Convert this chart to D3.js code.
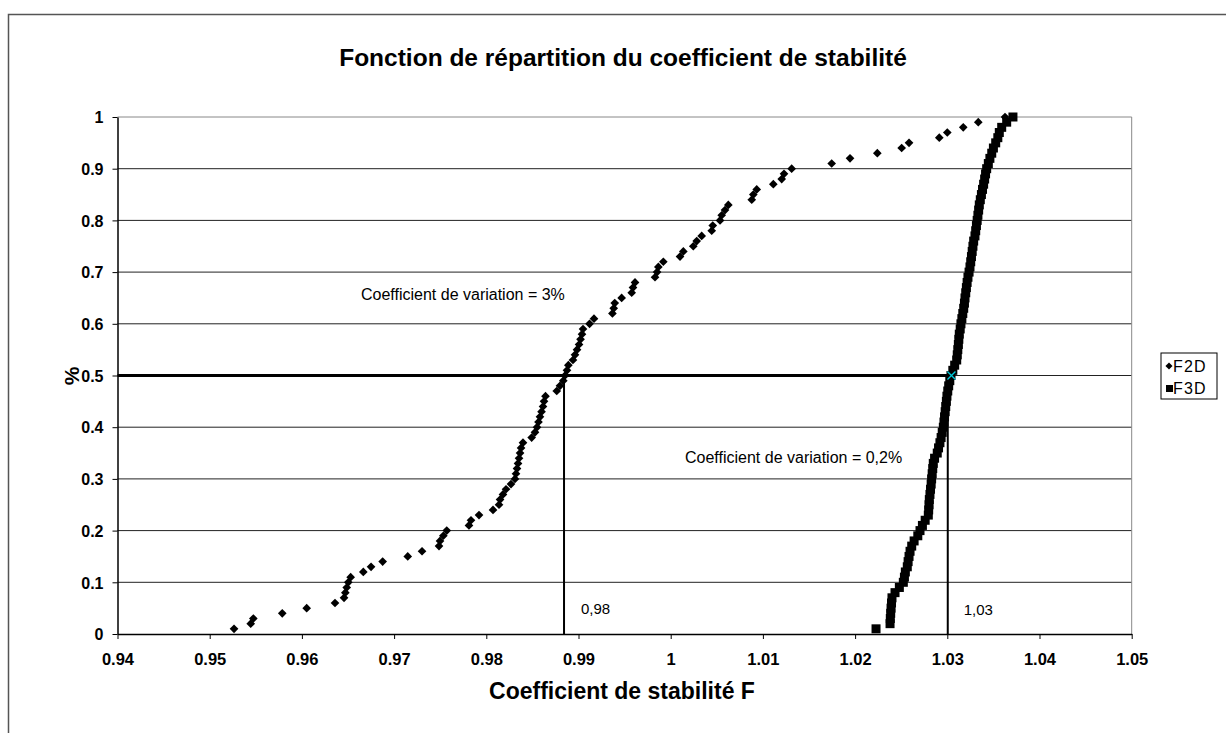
<!DOCTYPE html>
<html>
<head>
<meta charset="utf-8">
<script src="https://cdn.jsdelivr.net/npm/d3@7"></script>
<style>
  body { margin: 0; background: #fff; }
  svg { display: block; font-family: "Liberation Sans", Arial, sans-serif; }
</style>
</head>
<body>
<svg id="chart" width="1226" height="733"></svg>
<script>
// Cumulative probabilities (1 % ... 100 %)
const probs = d3.range(1, 101).map(i => i / 100);

// F2D stability coefficients, sorted
const f2d = [
  0.95264, 0.95445, 0.95473, 0.95787, 0.96052, 0.96359, 0.96457, 0.96471, 0.96486, 0.96503,
  0.96529, 0.96666, 0.96750, 0.96876, 0.97148, 0.97303, 0.97487, 0.97498, 0.97534, 0.97571,
  0.97812, 0.97834, 0.97921, 0.98073, 0.98138, 0.98149, 0.98181, 0.98214, 0.98268, 0.98311,
  0.98322, 0.98333, 0.98344, 0.98355, 0.98366, 0.98377, 0.98398, 0.98492, 0.98528, 0.98550,
  0.98566, 0.98582, 0.98599, 0.98615, 0.98626, 0.98642, 0.98764, 0.98799, 0.98835, 0.98854,
  0.98875, 0.98890, 0.98940, 0.98962, 0.98984, 0.99006, 0.99022, 0.99038, 0.99049, 0.99120,
  0.99168, 0.99368, 0.99382, 0.99393, 0.99468, 0.99577, 0.99591, 0.99613, 0.99830, 0.99852,
  0.99866, 0.99920, 1.00101, 1.00137, 1.00245, 1.00282, 1.00336, 1.00445, 1.00456, 1.00535,
  1.00553, 1.00589, 1.00625, 1.00879, 1.00896, 1.00933, 1.01113, 1.01204, 1.01229, 1.01312,
  1.01746, 1.01945, 1.02241, 1.02505, 1.02585, 1.02913, 1.03000, 1.03173, 1.03336, 1.03626
];

// F3D stability coefficients, sorted
const f3d = [
  1.02227, 1.02379, 1.02382, 1.02386, 1.02390, 1.02395, 1.02400, 1.02433, 1.02480, 1.02523,
  1.02535, 1.02545, 1.02566, 1.02575, 1.02585, 1.02596, 1.02614, 1.02640, 1.02680, 1.02704,
  1.02730, 1.02760, 1.02794, 1.02798, 1.02802, 1.02805, 1.02812, 1.02818, 1.02825, 1.02830,
  1.02836, 1.02842, 1.02848, 1.02862, 1.02891, 1.02905, 1.02920, 1.02933, 1.02945, 1.02957,
  1.02964, 1.02970, 1.02977, 1.02983, 1.02990, 1.02996, 1.03005, 1.03015, 1.03027, 1.03040,
  1.03060, 1.03080, 1.03102, 1.03108, 1.03114, 1.03120, 1.03125, 1.03130, 1.03140, 1.03148,
  1.03158, 1.03168, 1.03178, 1.03186, 1.03192, 1.03200, 1.03207, 1.03215, 1.03224, 1.03236,
  1.03246, 1.03254, 1.03262, 1.03270, 1.03278, 1.03286, 1.03300, 1.03308, 1.03316, 1.03324,
  1.03332, 1.03340, 1.03347, 1.03358, 1.03370, 1.03382, 1.03394, 1.03405, 1.03415, 1.03427,
  1.03445, 1.03462, 1.03482, 1.03500, 1.03525, 1.03548, 1.03564, 1.03590, 1.03644, 1.03712
];

// Medians
const median2d = 0.98843;
const median3d = 1.03005;
const medianMarker = [1.03045, 0.5];

const xTicks = [0.94, 0.95, 0.96, 0.97, 0.98, 0.99, 1, 1.01, 1.02, 1.03, 1.04, 1.05];
const yTicks = [0, 0.1, 0.2, 0.3, 0.4, 0.5, 0.6, 0.7, 0.8, 0.9, 1];

const svg = d3.select("#chart");
const plot = { left: 117.5, right: 1131.7, top: 117, bottom: 634 };

// outer chart frame
svg.append("rect")
  .attr("x", 8.5).attr("y", 14.5)
  .attr("width", 1240).attr("height", 740)
  .attr("fill", "none").attr("stroke", "#555").attr("stroke-width", 1.5);

const x = d3.scaleLinear().domain([0.94, 1.05]).range([plot.left, plot.right]);
const y = d3.scaleLinear().domain([0, 1]).range([plot.bottom, plot.top]);

// horizontal gridlines
svg.append("g").selectAll("line")
  .data(yTicks.filter(t => t > 0))
  .join("line")
  .attr("x1", plot.left).attr("x2", plot.right)
  .attr("y1", d => y(d)).attr("y2", d => y(d))
  .attr("stroke", d => d === 1 ? "#888" : "#222")
  .attr("stroke-width", 1);

// right border of plot area
svg.append("line")
  .attr("x1", plot.right).attr("x2", plot.right)
  .attr("y1", plot.top).attr("y2", plot.bottom)
  .attr("stroke", "#888").attr("stroke-width", 1);

// axes
const xAxis = d3.axisBottom(x).tickValues(xTicks).tickSize(5).tickSizeOuter(0)
  .tickFormat(d => d === 1 ? "1" : d3.format(".2f")(d));
const gx = svg.append("g").attr("transform", `translate(0,${plot.bottom})`).call(xAxis);
gx.select(".domain").attr("stroke", "#000").attr("stroke-width", 1.5);
gx.selectAll(".tick line").attr("stroke", "#000");
gx.selectAll(".tick text")
  .attr("font-family", "Liberation Sans, Arial, sans-serif")
  .attr("font-size", 16.5).attr("font-weight", "bold").attr("fill", "#000")
  .attr("y", 31).attr("dy", 0);

const yAxis = d3.axisLeft(y).tickValues(yTicks).tickSize(5).tickSizeOuter(0)
  .tickFormat(d => d === 0 ? "0" : d === 1 ? "1" : d3.format(".1f")(d));
const gy = svg.append("g").attr("transform", `translate(${plot.left},0)`).call(yAxis);
gy.select(".domain").attr("stroke", "#000").attr("stroke-width", 1.5);
gy.selectAll(".tick line").attr("stroke", "#000");
gy.selectAll(".tick text")
  .attr("font-family", "Liberation Sans, Arial, sans-serif")
  .attr("font-size", 16).attr("font-weight", "bold").attr("fill", "#000")
  .attr("x", -14).attr("dy", "0.36em");

// median guide lines
svg.append("line")
  .attr("x1", x(0.94)).attr("x2", x(median3d))
  .attr("y1", y(0.5)).attr("y2", y(0.5))
  .attr("stroke", "#000").attr("stroke-width", 3);
[median2d, median3d].forEach(m => {
  svg.append("line")
    .attr("x1", x(m)).attr("x2", x(m))
    .attr("y1", y(0.5)).attr("y2", y(0))
    .attr("stroke", "#000").attr("stroke-width", 2);
});

// F2D diamonds
const diamond = d3.symbol().type(d3.symbolDiamond2).size(48);
svg.append("g").selectAll("path")
  .data(f2d.map((v, i) => [v, probs[i]]))
  .join("path")
  .attr("d", diamond)
  .attr("transform", d => `translate(${x(d[0])},${y(d[1])})`)
  .attr("fill", "#000");

// F3D squares
svg.append("g").selectAll("rect")
  .data(f3d.map((v, i) => [v, probs[i]]))
  .join("rect")
  .attr("x", d => x(d[0]) - 4.5).attr("y", d => y(d[1]) - 4.5)
  .attr("width", 9).attr("height", 9)
  .attr("fill", "#000");

// median marker
const mk = svg.append("g").attr("transform", `translate(${x(medianMarker[0])},${y(medianMarker[1])})`);
mk.append("path").attr("d", "M-4,-4L4,4M-4,4L4,-4")
  .attr("stroke", "#00c8d8").attr("stroke-width", 1.3);

// annotations
const ann = svg.append("g").attr("font-size", 16).attr("fill", "#000");
ann.append("text").attr("x", 361).attr("y", 300).text("Coefficient de variation = 3%");
ann.append("text").attr("x", 685).attr("y", 463).text("Coefficient de variation = 0,2%");
ann.append("text").attr("x", x(median2d) + 17).attr("y", 614).attr("font-size", 15).text("0,98");
ann.append("text").attr("x", x(median3d) + 16).attr("y", 615).attr("font-size", 15).text("1,03");

// title and axis titles
svg.append("text")
  .attr("x", 623).attr("y", 66)
  .attr("text-anchor", "middle")
  .attr("font-size", 24.5).attr("font-weight", "bold")
  .text("Fonction de répartition du coefficient de stabilité");
svg.append("text")
  .attr("x", 622).attr("y", 699)
  .attr("text-anchor", "middle")
  .attr("font-size", 23).attr("font-weight", "bold")
  .text("Coefficient de stabilité F");
svg.append("text")
  .attr("transform", "translate(79,376) rotate(-90)")
  .attr("text-anchor", "middle")
  .attr("font-size", 21).attr("font-weight", "bold")
  .text("%");

// legend
const lg = svg.append("g").attr("transform", "translate(1161,353)");
lg.append("rect").attr("width", 56).attr("height", 46)
  .attr("fill", "#fff").attr("stroke", "#000").attr("stroke-width", 1);
lg.append("path").attr("d", d3.symbol().type(d3.symbolDiamond2).size(32))
  .attr("transform", "translate(8,13)");
lg.append("rect").attr("x", 5).attr("y", 32).attr("width", 7).attr("height", 7);
lg.append("text").attr("x", 12).attr("y", 18.5).attr("font-size", 16)
  .attr("letter-spacing", 1.2).text("F2D");
lg.append("text").attr("x", 12).attr("y", 40.5).attr("font-size", 16)
  .attr("letter-spacing", 1.2).text("F3D");
</script>
</body>
</html>
